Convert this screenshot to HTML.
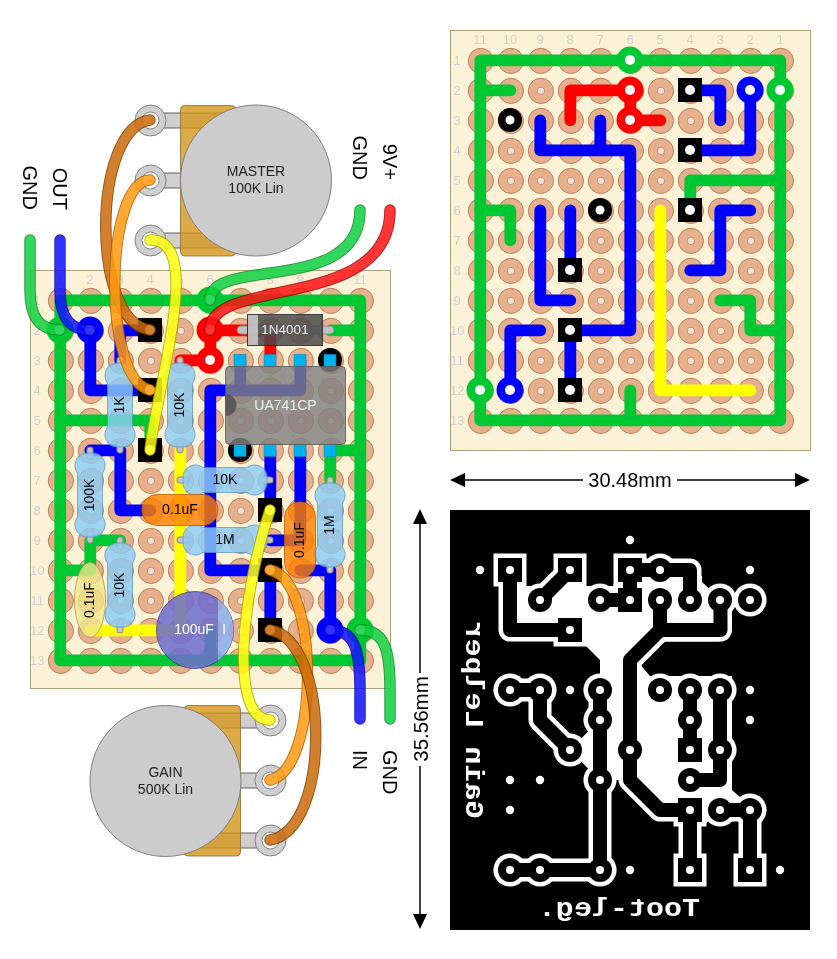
<!DOCTYPE html><html><head><meta charset="utf-8"><style>html,body{margin:0;padding:0;background:#fff;}svg{display:block;will-change:transform;}</style></head><body>
<svg width="837" height="959" viewBox="0 0 837 959" font-family="Liberation Sans, sans-serif">
<rect width="837" height="959" fill="#fff"/>
<rect x="30.5" y="270.5" width="360" height="418" fill="#fcf2d7" stroke="#aca27a" stroke-width="1"/>
<g font-family="Liberation Sans, sans-serif" font-size="13" fill="#d0d0d0" text-anchor="middle">
<text x="60" y="284">1</text>
<text x="90" y="284">2</text>
<text x="120" y="284">3</text>
<text x="150" y="284">4</text>
<text x="180" y="284">5</text>
<text x="210" y="284">6</text>
<text x="240" y="284">7</text>
<text x="270" y="284">8</text>
<text x="300" y="284">9</text>
<text x="330" y="284">10</text>
<text x="360" y="284">11</text>
<text x="37.2" y="305">1</text>
<text x="37.2" y="335">2</text>
<text x="37.2" y="365">3</text>
<text x="37.2" y="395">4</text>
<text x="37.2" y="425">5</text>
<text x="37.2" y="455">6</text>
<text x="37.2" y="485">7</text>
<text x="37.2" y="515">8</text>
<text x="37.2" y="545">9</text>
<text x="37.2" y="575">10</text>
<text x="37.2" y="605">11</text>
<text x="37.2" y="635">12</text>
<text x="37.2" y="665">13</text>
</g>
<g fill="#e6b08c" stroke="#b8825e" stroke-width="1">
<circle cx="60.9" cy="300.9" r="12.6"/>
<circle cx="60.9" cy="330.9" r="12.6"/>
<circle cx="60.9" cy="360.9" r="12.6"/>
<circle cx="60.9" cy="390.9" r="12.6"/>
<circle cx="60.9" cy="420.9" r="12.6"/>
<circle cx="60.9" cy="450.9" r="12.6"/>
<circle cx="60.9" cy="480.9" r="12.6"/>
<circle cx="60.9" cy="510.9" r="12.6"/>
<circle cx="60.9" cy="540.9" r="12.6"/>
<circle cx="60.9" cy="570.9" r="12.6"/>
<circle cx="60.9" cy="600.9" r="12.6"/>
<circle cx="60.9" cy="630.9" r="12.6"/>
<circle cx="60.9" cy="660.9" r="12.6"/>
<circle cx="90.9" cy="300.9" r="12.6"/>
<circle cx="90.9" cy="330.9" r="12.6"/>
<circle cx="90.9" cy="360.9" r="12.6"/>
<circle cx="90.9" cy="390.9" r="12.6"/>
<circle cx="90.9" cy="420.9" r="12.6"/>
<circle cx="90.9" cy="450.9" r="12.6"/>
<circle cx="90.9" cy="480.9" r="12.6"/>
<circle cx="90.9" cy="510.9" r="12.6"/>
<circle cx="90.9" cy="540.9" r="12.6"/>
<circle cx="90.9" cy="570.9" r="12.6"/>
<circle cx="90.9" cy="600.9" r="12.6"/>
<circle cx="90.9" cy="630.9" r="12.6"/>
<circle cx="90.9" cy="660.9" r="12.6"/>
<circle cx="120.9" cy="300.9" r="12.6"/>
<circle cx="120.9" cy="330.9" r="12.6"/>
<circle cx="120.9" cy="360.9" r="12.6"/>
<circle cx="120.9" cy="390.9" r="12.6"/>
<circle cx="120.9" cy="420.9" r="12.6"/>
<circle cx="120.9" cy="450.9" r="12.6"/>
<circle cx="120.9" cy="480.9" r="12.6"/>
<circle cx="120.9" cy="510.9" r="12.6"/>
<circle cx="120.9" cy="540.9" r="12.6"/>
<circle cx="120.9" cy="570.9" r="12.6"/>
<circle cx="120.9" cy="600.9" r="12.6"/>
<circle cx="120.9" cy="630.9" r="12.6"/>
<circle cx="120.9" cy="660.9" r="12.6"/>
<circle cx="150.9" cy="300.9" r="12.6"/>
<circle cx="150.9" cy="330.9" r="12.6"/>
<circle cx="150.9" cy="360.9" r="12.6"/>
<circle cx="150.9" cy="390.9" r="12.6"/>
<circle cx="150.9" cy="420.9" r="12.6"/>
<circle cx="150.9" cy="450.9" r="12.6"/>
<circle cx="150.9" cy="480.9" r="12.6"/>
<circle cx="150.9" cy="510.9" r="12.6"/>
<circle cx="150.9" cy="540.9" r="12.6"/>
<circle cx="150.9" cy="570.9" r="12.6"/>
<circle cx="150.9" cy="600.9" r="12.6"/>
<circle cx="150.9" cy="630.9" r="12.6"/>
<circle cx="150.9" cy="660.9" r="12.6"/>
<circle cx="180.9" cy="300.9" r="12.6"/>
<circle cx="180.9" cy="330.9" r="12.6"/>
<circle cx="180.9" cy="360.9" r="12.6"/>
<circle cx="180.9" cy="390.9" r="12.6"/>
<circle cx="180.9" cy="420.9" r="12.6"/>
<circle cx="180.9" cy="450.9" r="12.6"/>
<circle cx="180.9" cy="480.9" r="12.6"/>
<circle cx="180.9" cy="510.9" r="12.6"/>
<circle cx="180.9" cy="540.9" r="12.6"/>
<circle cx="180.9" cy="570.9" r="12.6"/>
<circle cx="180.9" cy="600.9" r="12.6"/>
<circle cx="180.9" cy="630.9" r="12.6"/>
<circle cx="180.9" cy="660.9" r="12.6"/>
<circle cx="210.9" cy="300.9" r="12.6"/>
<circle cx="210.9" cy="330.9" r="12.6"/>
<circle cx="210.9" cy="360.9" r="12.6"/>
<circle cx="210.9" cy="390.9" r="12.6"/>
<circle cx="210.9" cy="420.9" r="12.6"/>
<circle cx="210.9" cy="450.9" r="12.6"/>
<circle cx="210.9" cy="480.9" r="12.6"/>
<circle cx="210.9" cy="510.9" r="12.6"/>
<circle cx="210.9" cy="540.9" r="12.6"/>
<circle cx="210.9" cy="570.9" r="12.6"/>
<circle cx="210.9" cy="600.9" r="12.6"/>
<circle cx="210.9" cy="630.9" r="12.6"/>
<circle cx="210.9" cy="660.9" r="12.6"/>
<circle cx="240.9" cy="300.9" r="12.6"/>
<circle cx="240.9" cy="330.9" r="12.6"/>
<circle cx="240.9" cy="360.9" r="12.6"/>
<circle cx="240.9" cy="390.9" r="12.6"/>
<circle cx="240.9" cy="420.9" r="12.6"/>
<circle cx="240.9" cy="450.9" r="12.6"/>
<circle cx="240.9" cy="480.9" r="12.6"/>
<circle cx="240.9" cy="510.9" r="12.6"/>
<circle cx="240.9" cy="540.9" r="12.6"/>
<circle cx="240.9" cy="570.9" r="12.6"/>
<circle cx="240.9" cy="600.9" r="12.6"/>
<circle cx="240.9" cy="630.9" r="12.6"/>
<circle cx="240.9" cy="660.9" r="12.6"/>
<circle cx="270.9" cy="300.9" r="12.6"/>
<circle cx="270.9" cy="330.9" r="12.6"/>
<circle cx="270.9" cy="360.9" r="12.6"/>
<circle cx="270.9" cy="390.9" r="12.6"/>
<circle cx="270.9" cy="420.9" r="12.6"/>
<circle cx="270.9" cy="450.9" r="12.6"/>
<circle cx="270.9" cy="480.9" r="12.6"/>
<circle cx="270.9" cy="510.9" r="12.6"/>
<circle cx="270.9" cy="540.9" r="12.6"/>
<circle cx="270.9" cy="570.9" r="12.6"/>
<circle cx="270.9" cy="600.9" r="12.6"/>
<circle cx="270.9" cy="630.9" r="12.6"/>
<circle cx="270.9" cy="660.9" r="12.6"/>
<circle cx="300.9" cy="300.9" r="12.6"/>
<circle cx="300.9" cy="330.9" r="12.6"/>
<circle cx="300.9" cy="360.9" r="12.6"/>
<circle cx="300.9" cy="390.9" r="12.6"/>
<circle cx="300.9" cy="420.9" r="12.6"/>
<circle cx="300.9" cy="450.9" r="12.6"/>
<circle cx="300.9" cy="480.9" r="12.6"/>
<circle cx="300.9" cy="510.9" r="12.6"/>
<circle cx="300.9" cy="540.9" r="12.6"/>
<circle cx="300.9" cy="570.9" r="12.6"/>
<circle cx="300.9" cy="600.9" r="12.6"/>
<circle cx="300.9" cy="630.9" r="12.6"/>
<circle cx="300.9" cy="660.9" r="12.6"/>
<circle cx="330.9" cy="300.9" r="12.6"/>
<circle cx="330.9" cy="330.9" r="12.6"/>
<circle cx="330.9" cy="360.9" r="12.6"/>
<circle cx="330.9" cy="390.9" r="12.6"/>
<circle cx="330.9" cy="420.9" r="12.6"/>
<circle cx="330.9" cy="450.9" r="12.6"/>
<circle cx="330.9" cy="480.9" r="12.6"/>
<circle cx="330.9" cy="510.9" r="12.6"/>
<circle cx="330.9" cy="540.9" r="12.6"/>
<circle cx="330.9" cy="570.9" r="12.6"/>
<circle cx="330.9" cy="600.9" r="12.6"/>
<circle cx="330.9" cy="630.9" r="12.6"/>
<circle cx="330.9" cy="660.9" r="12.6"/>
<circle cx="360.9" cy="300.9" r="12.6"/>
<circle cx="360.9" cy="330.9" r="12.6"/>
<circle cx="360.9" cy="360.9" r="12.6"/>
<circle cx="360.9" cy="390.9" r="12.6"/>
<circle cx="360.9" cy="420.9" r="12.6"/>
<circle cx="360.9" cy="450.9" r="12.6"/>
<circle cx="360.9" cy="480.9" r="12.6"/>
<circle cx="360.9" cy="510.9" r="12.6"/>
<circle cx="360.9" cy="540.9" r="12.6"/>
<circle cx="360.9" cy="570.9" r="12.6"/>
<circle cx="360.9" cy="600.9" r="12.6"/>
<circle cx="360.9" cy="630.9" r="12.6"/>
<circle cx="360.9" cy="660.9" r="12.6"/>
</g>
<g fill="#f2e2d8" stroke="#b8825e" stroke-width="0.8">
<circle cx="60.9" cy="300.9" r="3.7"/>
<circle cx="60.9" cy="330.9" r="3.7"/>
<circle cx="60.9" cy="360.9" r="3.7"/>
<circle cx="60.9" cy="390.9" r="3.7"/>
<circle cx="60.9" cy="420.9" r="3.7"/>
<circle cx="60.9" cy="450.9" r="3.7"/>
<circle cx="60.9" cy="480.9" r="3.7"/>
<circle cx="60.9" cy="510.9" r="3.7"/>
<circle cx="60.9" cy="540.9" r="3.7"/>
<circle cx="60.9" cy="570.9" r="3.7"/>
<circle cx="60.9" cy="600.9" r="3.7"/>
<circle cx="60.9" cy="630.9" r="3.7"/>
<circle cx="60.9" cy="660.9" r="3.7"/>
<circle cx="90.9" cy="300.9" r="3.7"/>
<circle cx="90.9" cy="330.9" r="3.7"/>
<circle cx="90.9" cy="360.9" r="3.7"/>
<circle cx="90.9" cy="390.9" r="3.7"/>
<circle cx="90.9" cy="420.9" r="3.7"/>
<circle cx="90.9" cy="450.9" r="3.7"/>
<circle cx="90.9" cy="480.9" r="3.7"/>
<circle cx="90.9" cy="510.9" r="3.7"/>
<circle cx="90.9" cy="540.9" r="3.7"/>
<circle cx="90.9" cy="570.9" r="3.7"/>
<circle cx="90.9" cy="600.9" r="3.7"/>
<circle cx="90.9" cy="630.9" r="3.7"/>
<circle cx="90.9" cy="660.9" r="3.7"/>
<circle cx="120.9" cy="300.9" r="3.7"/>
<circle cx="120.9" cy="330.9" r="3.7"/>
<circle cx="120.9" cy="360.9" r="3.7"/>
<circle cx="120.9" cy="390.9" r="3.7"/>
<circle cx="120.9" cy="420.9" r="3.7"/>
<circle cx="120.9" cy="450.9" r="3.7"/>
<circle cx="120.9" cy="480.9" r="3.7"/>
<circle cx="120.9" cy="510.9" r="3.7"/>
<circle cx="120.9" cy="540.9" r="3.7"/>
<circle cx="120.9" cy="570.9" r="3.7"/>
<circle cx="120.9" cy="600.9" r="3.7"/>
<circle cx="120.9" cy="630.9" r="3.7"/>
<circle cx="120.9" cy="660.9" r="3.7"/>
<circle cx="150.9" cy="300.9" r="3.7"/>
<circle cx="150.9" cy="330.9" r="3.7"/>
<circle cx="150.9" cy="360.9" r="3.7"/>
<circle cx="150.9" cy="390.9" r="3.7"/>
<circle cx="150.9" cy="420.9" r="3.7"/>
<circle cx="150.9" cy="450.9" r="3.7"/>
<circle cx="150.9" cy="480.9" r="3.7"/>
<circle cx="150.9" cy="510.9" r="3.7"/>
<circle cx="150.9" cy="540.9" r="3.7"/>
<circle cx="150.9" cy="570.9" r="3.7"/>
<circle cx="150.9" cy="600.9" r="3.7"/>
<circle cx="150.9" cy="630.9" r="3.7"/>
<circle cx="150.9" cy="660.9" r="3.7"/>
<circle cx="180.9" cy="300.9" r="3.7"/>
<circle cx="180.9" cy="330.9" r="3.7"/>
<circle cx="180.9" cy="360.9" r="3.7"/>
<circle cx="180.9" cy="390.9" r="3.7"/>
<circle cx="180.9" cy="420.9" r="3.7"/>
<circle cx="180.9" cy="450.9" r="3.7"/>
<circle cx="180.9" cy="480.9" r="3.7"/>
<circle cx="180.9" cy="510.9" r="3.7"/>
<circle cx="180.9" cy="540.9" r="3.7"/>
<circle cx="180.9" cy="570.9" r="3.7"/>
<circle cx="180.9" cy="600.9" r="3.7"/>
<circle cx="180.9" cy="630.9" r="3.7"/>
<circle cx="180.9" cy="660.9" r="3.7"/>
<circle cx="210.9" cy="300.9" r="3.7"/>
<circle cx="210.9" cy="330.9" r="3.7"/>
<circle cx="210.9" cy="360.9" r="3.7"/>
<circle cx="210.9" cy="390.9" r="3.7"/>
<circle cx="210.9" cy="420.9" r="3.7"/>
<circle cx="210.9" cy="450.9" r="3.7"/>
<circle cx="210.9" cy="480.9" r="3.7"/>
<circle cx="210.9" cy="510.9" r="3.7"/>
<circle cx="210.9" cy="540.9" r="3.7"/>
<circle cx="210.9" cy="570.9" r="3.7"/>
<circle cx="210.9" cy="600.9" r="3.7"/>
<circle cx="210.9" cy="630.9" r="3.7"/>
<circle cx="210.9" cy="660.9" r="3.7"/>
<circle cx="240.9" cy="300.9" r="3.7"/>
<circle cx="240.9" cy="330.9" r="3.7"/>
<circle cx="240.9" cy="360.9" r="3.7"/>
<circle cx="240.9" cy="390.9" r="3.7"/>
<circle cx="240.9" cy="420.9" r="3.7"/>
<circle cx="240.9" cy="450.9" r="3.7"/>
<circle cx="240.9" cy="480.9" r="3.7"/>
<circle cx="240.9" cy="510.9" r="3.7"/>
<circle cx="240.9" cy="540.9" r="3.7"/>
<circle cx="240.9" cy="570.9" r="3.7"/>
<circle cx="240.9" cy="600.9" r="3.7"/>
<circle cx="240.9" cy="630.9" r="3.7"/>
<circle cx="240.9" cy="660.9" r="3.7"/>
<circle cx="270.9" cy="300.9" r="3.7"/>
<circle cx="270.9" cy="330.9" r="3.7"/>
<circle cx="270.9" cy="360.9" r="3.7"/>
<circle cx="270.9" cy="390.9" r="3.7"/>
<circle cx="270.9" cy="420.9" r="3.7"/>
<circle cx="270.9" cy="450.9" r="3.7"/>
<circle cx="270.9" cy="480.9" r="3.7"/>
<circle cx="270.9" cy="510.9" r="3.7"/>
<circle cx="270.9" cy="540.9" r="3.7"/>
<circle cx="270.9" cy="570.9" r="3.7"/>
<circle cx="270.9" cy="600.9" r="3.7"/>
<circle cx="270.9" cy="630.9" r="3.7"/>
<circle cx="270.9" cy="660.9" r="3.7"/>
<circle cx="300.9" cy="300.9" r="3.7"/>
<circle cx="300.9" cy="330.9" r="3.7"/>
<circle cx="300.9" cy="360.9" r="3.7"/>
<circle cx="300.9" cy="390.9" r="3.7"/>
<circle cx="300.9" cy="420.9" r="3.7"/>
<circle cx="300.9" cy="450.9" r="3.7"/>
<circle cx="300.9" cy="480.9" r="3.7"/>
<circle cx="300.9" cy="510.9" r="3.7"/>
<circle cx="300.9" cy="540.9" r="3.7"/>
<circle cx="300.9" cy="570.9" r="3.7"/>
<circle cx="300.9" cy="600.9" r="3.7"/>
<circle cx="300.9" cy="630.9" r="3.7"/>
<circle cx="300.9" cy="660.9" r="3.7"/>
<circle cx="330.9" cy="300.9" r="3.7"/>
<circle cx="330.9" cy="330.9" r="3.7"/>
<circle cx="330.9" cy="360.9" r="3.7"/>
<circle cx="330.9" cy="390.9" r="3.7"/>
<circle cx="330.9" cy="420.9" r="3.7"/>
<circle cx="330.9" cy="450.9" r="3.7"/>
<circle cx="330.9" cy="480.9" r="3.7"/>
<circle cx="330.9" cy="510.9" r="3.7"/>
<circle cx="330.9" cy="540.9" r="3.7"/>
<circle cx="330.9" cy="570.9" r="3.7"/>
<circle cx="330.9" cy="600.9" r="3.7"/>
<circle cx="330.9" cy="630.9" r="3.7"/>
<circle cx="330.9" cy="660.9" r="3.7"/>
<circle cx="360.9" cy="300.9" r="3.7"/>
<circle cx="360.9" cy="330.9" r="3.7"/>
<circle cx="360.9" cy="360.9" r="3.7"/>
<circle cx="360.9" cy="390.9" r="3.7"/>
<circle cx="360.9" cy="420.9" r="3.7"/>
<circle cx="360.9" cy="450.9" r="3.7"/>
<circle cx="360.9" cy="480.9" r="3.7"/>
<circle cx="360.9" cy="510.9" r="3.7"/>
<circle cx="360.9" cy="540.9" r="3.7"/>
<circle cx="360.9" cy="570.9" r="3.7"/>
<circle cx="360.9" cy="600.9" r="3.7"/>
<circle cx="360.9" cy="630.9" r="3.7"/>
<circle cx="360.9" cy="660.9" r="3.7"/>
</g>
<g fill="none" stroke="#00c832" stroke-width="11.8" stroke-linecap="round" stroke-linejoin="round">
<polyline points="60.3,300.3 360.3,300.3 360.3,660.3 60.3,660.3 60.3,300.3"/>
<polyline points="360.3,330.3 330.3,330.3"/>
<polyline points="360.3,450.3 330.3,450.3 330.3,480.3"/>
<polyline points="60.3,420.3 150.3,420.3 150.3,450.3"/>
<polyline points="120.3,540.3 90.3,540.3 90.3,570.3 60.3,570.3"/>
<polyline points="210.3,660.3 210.3,630.3"/>
</g>
<g fill="none" stroke="#ff0000" stroke-width="11.8" stroke-linecap="round" stroke-linejoin="round">
<polyline points="270.3,360.3 270.3,330.3 210.3,330.3"/>
<polyline points="210.3,330.3 210.3,360.3 180.3,360.3"/>
</g>
<g fill="none" stroke="#0000ff" stroke-width="11.8" stroke-linecap="round" stroke-linejoin="round">
<polyline points="90.3,330.3 90.3,390.3 150.3,390.3"/>
<polyline points="150.3,330.3 120.3,330.3 120.3,360.3"/>
<polyline points="300.3,360.3 300.3,390.3 210.3,390.3 210.3,570.3 270.3,570.3"/>
<polyline points="240.3,360.3 240.3,390.3"/>
<polyline points="300.3,450.3 300.3,540.3 270.3,540.3"/>
<polyline points="270.3,450.3 270.3,510.3"/>
<polyline points="270.3,570.3 270.3,630.3"/>
<polyline points="300.3,570.3 330.3,570.3 330.3,630.3"/>
<polyline points="90.3,450.3 120.3,450.3 120.3,510.3 150.3,510.3"/>
</g>
<g fill="none" stroke="#ffff00" stroke-width="11.8" stroke-linecap="round" stroke-linejoin="round">
<polyline points="180.3,450.3 180.3,630.3 90.3,630.3"/>
</g>
<circle cx="210" cy="300" r="13.5" fill="#00c832"/><circle cx="210" cy="300" r="5" fill="#fff"/>
<circle cx="60" cy="330" r="13.5" fill="#00c832"/><circle cx="60" cy="330" r="5" fill="#fff"/>
<circle cx="360" cy="630" r="13.5" fill="#00c832"/><circle cx="360" cy="630" r="5" fill="#fff"/>
<circle cx="210" cy="330" r="13.5" fill="#ff0000"/><circle cx="210" cy="330" r="5" fill="#fff"/>
<circle cx="210" cy="360" r="13.5" fill="#ff0000"/><circle cx="210" cy="360" r="5" fill="#fff"/>
<circle cx="90" cy="330" r="13.5" fill="#0000ff"/><circle cx="90" cy="330" r="5" fill="#fff"/>
<circle cx="330" cy="630" r="13.5" fill="#0000ff"/><circle cx="330" cy="630" r="5" fill="#fff"/>
<rect x="138" y="318" width="24" height="24" fill="#000"/><circle cx="150" cy="330" r="5" fill="#fff"/>
<rect x="138" y="378" width="24" height="24" fill="#000"/><circle cx="150" cy="390" r="5" fill="#fff"/>
<rect x="138" y="438" width="24" height="24" fill="#000"/><circle cx="150" cy="450" r="5" fill="#fff"/>
<rect x="258" y="498" width="24" height="24" fill="#000"/><circle cx="270" cy="510" r="5" fill="#fff"/>
<rect x="258" y="558" width="24" height="24" fill="#000"/><circle cx="270" cy="570" r="5" fill="#fff"/>
<rect x="258" y="618" width="24" height="24" fill="#000"/><circle cx="270" cy="630" r="5" fill="#fff"/>
<circle cx="330" cy="360" r="12" fill="#000"/><circle cx="330" cy="360" r="4.5" fill="#fff"/>
<circle cx="240" cy="450" r="12" fill="#000"/><circle cx="240" cy="450" r="4.5" fill="#fff"/>
<rect x="450.5" y="30.5" width="360" height="420" fill="#fcf2d7" stroke="#aca27a" stroke-width="1"/>
<g font-family="Liberation Sans, sans-serif" font-size="13" fill="#d0d0d0" text-anchor="middle">
<text x="780" y="44">1</text>
<text x="750" y="44">2</text>
<text x="720" y="44">3</text>
<text x="690" y="44">4</text>
<text x="660" y="44">5</text>
<text x="630" y="44">6</text>
<text x="600" y="44">7</text>
<text x="570" y="44">8</text>
<text x="540" y="44">9</text>
<text x="510" y="44">10</text>
<text x="480" y="44">11</text>
<text x="457.2" y="65">1</text>
<text x="457.2" y="95">2</text>
<text x="457.2" y="125">3</text>
<text x="457.2" y="155">4</text>
<text x="457.2" y="185">5</text>
<text x="457.2" y="215">6</text>
<text x="457.2" y="245">7</text>
<text x="457.2" y="275">8</text>
<text x="457.2" y="305">9</text>
<text x="457.2" y="335">10</text>
<text x="457.2" y="365">11</text>
<text x="457.2" y="395">12</text>
<text x="457.2" y="425">13</text>
</g>
<g fill="#e6b08c" stroke="#b8825e" stroke-width="1">
<circle cx="780.9" cy="60.9" r="12.6"/>
<circle cx="780.9" cy="90.9" r="12.6"/>
<circle cx="780.9" cy="120.9" r="12.6"/>
<circle cx="780.9" cy="150.9" r="12.6"/>
<circle cx="780.9" cy="180.9" r="12.6"/>
<circle cx="780.9" cy="210.9" r="12.6"/>
<circle cx="780.9" cy="240.9" r="12.6"/>
<circle cx="780.9" cy="270.9" r="12.6"/>
<circle cx="780.9" cy="300.9" r="12.6"/>
<circle cx="780.9" cy="330.9" r="12.6"/>
<circle cx="780.9" cy="360.9" r="12.6"/>
<circle cx="780.9" cy="390.9" r="12.6"/>
<circle cx="780.9" cy="420.9" r="12.6"/>
<circle cx="750.9" cy="60.9" r="12.6"/>
<circle cx="750.9" cy="90.9" r="12.6"/>
<circle cx="750.9" cy="120.9" r="12.6"/>
<circle cx="750.9" cy="150.9" r="12.6"/>
<circle cx="750.9" cy="180.9" r="12.6"/>
<circle cx="750.9" cy="210.9" r="12.6"/>
<circle cx="750.9" cy="240.9" r="12.6"/>
<circle cx="750.9" cy="270.9" r="12.6"/>
<circle cx="750.9" cy="300.9" r="12.6"/>
<circle cx="750.9" cy="330.9" r="12.6"/>
<circle cx="750.9" cy="360.9" r="12.6"/>
<circle cx="750.9" cy="390.9" r="12.6"/>
<circle cx="750.9" cy="420.9" r="12.6"/>
<circle cx="720.9" cy="60.9" r="12.6"/>
<circle cx="720.9" cy="90.9" r="12.6"/>
<circle cx="720.9" cy="120.9" r="12.6"/>
<circle cx="720.9" cy="150.9" r="12.6"/>
<circle cx="720.9" cy="180.9" r="12.6"/>
<circle cx="720.9" cy="210.9" r="12.6"/>
<circle cx="720.9" cy="240.9" r="12.6"/>
<circle cx="720.9" cy="270.9" r="12.6"/>
<circle cx="720.9" cy="300.9" r="12.6"/>
<circle cx="720.9" cy="330.9" r="12.6"/>
<circle cx="720.9" cy="360.9" r="12.6"/>
<circle cx="720.9" cy="390.9" r="12.6"/>
<circle cx="720.9" cy="420.9" r="12.6"/>
<circle cx="690.9" cy="60.9" r="12.6"/>
<circle cx="690.9" cy="90.9" r="12.6"/>
<circle cx="690.9" cy="120.9" r="12.6"/>
<circle cx="690.9" cy="150.9" r="12.6"/>
<circle cx="690.9" cy="180.9" r="12.6"/>
<circle cx="690.9" cy="210.9" r="12.6"/>
<circle cx="690.9" cy="240.9" r="12.6"/>
<circle cx="690.9" cy="270.9" r="12.6"/>
<circle cx="690.9" cy="300.9" r="12.6"/>
<circle cx="690.9" cy="330.9" r="12.6"/>
<circle cx="690.9" cy="360.9" r="12.6"/>
<circle cx="690.9" cy="390.9" r="12.6"/>
<circle cx="690.9" cy="420.9" r="12.6"/>
<circle cx="660.9" cy="60.9" r="12.6"/>
<circle cx="660.9" cy="90.9" r="12.6"/>
<circle cx="660.9" cy="120.9" r="12.6"/>
<circle cx="660.9" cy="150.9" r="12.6"/>
<circle cx="660.9" cy="180.9" r="12.6"/>
<circle cx="660.9" cy="210.9" r="12.6"/>
<circle cx="660.9" cy="240.9" r="12.6"/>
<circle cx="660.9" cy="270.9" r="12.6"/>
<circle cx="660.9" cy="300.9" r="12.6"/>
<circle cx="660.9" cy="330.9" r="12.6"/>
<circle cx="660.9" cy="360.9" r="12.6"/>
<circle cx="660.9" cy="390.9" r="12.6"/>
<circle cx="660.9" cy="420.9" r="12.6"/>
<circle cx="630.9" cy="60.9" r="12.6"/>
<circle cx="630.9" cy="90.9" r="12.6"/>
<circle cx="630.9" cy="120.9" r="12.6"/>
<circle cx="630.9" cy="150.9" r="12.6"/>
<circle cx="630.9" cy="180.9" r="12.6"/>
<circle cx="630.9" cy="210.9" r="12.6"/>
<circle cx="630.9" cy="240.9" r="12.6"/>
<circle cx="630.9" cy="270.9" r="12.6"/>
<circle cx="630.9" cy="300.9" r="12.6"/>
<circle cx="630.9" cy="330.9" r="12.6"/>
<circle cx="630.9" cy="360.9" r="12.6"/>
<circle cx="630.9" cy="390.9" r="12.6"/>
<circle cx="630.9" cy="420.9" r="12.6"/>
<circle cx="600.9" cy="60.9" r="12.6"/>
<circle cx="600.9" cy="90.9" r="12.6"/>
<circle cx="600.9" cy="120.9" r="12.6"/>
<circle cx="600.9" cy="150.9" r="12.6"/>
<circle cx="600.9" cy="180.9" r="12.6"/>
<circle cx="600.9" cy="210.9" r="12.6"/>
<circle cx="600.9" cy="240.9" r="12.6"/>
<circle cx="600.9" cy="270.9" r="12.6"/>
<circle cx="600.9" cy="300.9" r="12.6"/>
<circle cx="600.9" cy="330.9" r="12.6"/>
<circle cx="600.9" cy="360.9" r="12.6"/>
<circle cx="600.9" cy="390.9" r="12.6"/>
<circle cx="600.9" cy="420.9" r="12.6"/>
<circle cx="570.9" cy="60.9" r="12.6"/>
<circle cx="570.9" cy="90.9" r="12.6"/>
<circle cx="570.9" cy="120.9" r="12.6"/>
<circle cx="570.9" cy="150.9" r="12.6"/>
<circle cx="570.9" cy="180.9" r="12.6"/>
<circle cx="570.9" cy="210.9" r="12.6"/>
<circle cx="570.9" cy="240.9" r="12.6"/>
<circle cx="570.9" cy="270.9" r="12.6"/>
<circle cx="570.9" cy="300.9" r="12.6"/>
<circle cx="570.9" cy="330.9" r="12.6"/>
<circle cx="570.9" cy="360.9" r="12.6"/>
<circle cx="570.9" cy="390.9" r="12.6"/>
<circle cx="570.9" cy="420.9" r="12.6"/>
<circle cx="540.9" cy="60.9" r="12.6"/>
<circle cx="540.9" cy="90.9" r="12.6"/>
<circle cx="540.9" cy="120.9" r="12.6"/>
<circle cx="540.9" cy="150.9" r="12.6"/>
<circle cx="540.9" cy="180.9" r="12.6"/>
<circle cx="540.9" cy="210.9" r="12.6"/>
<circle cx="540.9" cy="240.9" r="12.6"/>
<circle cx="540.9" cy="270.9" r="12.6"/>
<circle cx="540.9" cy="300.9" r="12.6"/>
<circle cx="540.9" cy="330.9" r="12.6"/>
<circle cx="540.9" cy="360.9" r="12.6"/>
<circle cx="540.9" cy="390.9" r="12.6"/>
<circle cx="540.9" cy="420.9" r="12.6"/>
<circle cx="510.9" cy="60.9" r="12.6"/>
<circle cx="510.9" cy="90.9" r="12.6"/>
<circle cx="510.9" cy="120.9" r="12.6"/>
<circle cx="510.9" cy="150.9" r="12.6"/>
<circle cx="510.9" cy="180.9" r="12.6"/>
<circle cx="510.9" cy="210.9" r="12.6"/>
<circle cx="510.9" cy="240.9" r="12.6"/>
<circle cx="510.9" cy="270.9" r="12.6"/>
<circle cx="510.9" cy="300.9" r="12.6"/>
<circle cx="510.9" cy="330.9" r="12.6"/>
<circle cx="510.9" cy="360.9" r="12.6"/>
<circle cx="510.9" cy="390.9" r="12.6"/>
<circle cx="510.9" cy="420.9" r="12.6"/>
<circle cx="480.9" cy="60.9" r="12.6"/>
<circle cx="480.9" cy="90.9" r="12.6"/>
<circle cx="480.9" cy="120.9" r="12.6"/>
<circle cx="480.9" cy="150.9" r="12.6"/>
<circle cx="480.9" cy="180.9" r="12.6"/>
<circle cx="480.9" cy="210.9" r="12.6"/>
<circle cx="480.9" cy="240.9" r="12.6"/>
<circle cx="480.9" cy="270.9" r="12.6"/>
<circle cx="480.9" cy="300.9" r="12.6"/>
<circle cx="480.9" cy="330.9" r="12.6"/>
<circle cx="480.9" cy="360.9" r="12.6"/>
<circle cx="480.9" cy="390.9" r="12.6"/>
<circle cx="480.9" cy="420.9" r="12.6"/>
</g>
<g fill="#f2e2d8" stroke="#b8825e" stroke-width="0.8">
<circle cx="780.9" cy="60.9" r="3.7"/>
<circle cx="780.9" cy="90.9" r="3.7"/>
<circle cx="780.9" cy="120.9" r="3.7"/>
<circle cx="780.9" cy="150.9" r="3.7"/>
<circle cx="780.9" cy="180.9" r="3.7"/>
<circle cx="780.9" cy="210.9" r="3.7"/>
<circle cx="780.9" cy="240.9" r="3.7"/>
<circle cx="780.9" cy="270.9" r="3.7"/>
<circle cx="780.9" cy="300.9" r="3.7"/>
<circle cx="780.9" cy="330.9" r="3.7"/>
<circle cx="780.9" cy="360.9" r="3.7"/>
<circle cx="780.9" cy="390.9" r="3.7"/>
<circle cx="780.9" cy="420.9" r="3.7"/>
<circle cx="750.9" cy="60.9" r="3.7"/>
<circle cx="750.9" cy="90.9" r="3.7"/>
<circle cx="750.9" cy="120.9" r="3.7"/>
<circle cx="750.9" cy="150.9" r="3.7"/>
<circle cx="750.9" cy="180.9" r="3.7"/>
<circle cx="750.9" cy="210.9" r="3.7"/>
<circle cx="750.9" cy="240.9" r="3.7"/>
<circle cx="750.9" cy="270.9" r="3.7"/>
<circle cx="750.9" cy="300.9" r="3.7"/>
<circle cx="750.9" cy="330.9" r="3.7"/>
<circle cx="750.9" cy="360.9" r="3.7"/>
<circle cx="750.9" cy="390.9" r="3.7"/>
<circle cx="750.9" cy="420.9" r="3.7"/>
<circle cx="720.9" cy="60.9" r="3.7"/>
<circle cx="720.9" cy="90.9" r="3.7"/>
<circle cx="720.9" cy="120.9" r="3.7"/>
<circle cx="720.9" cy="150.9" r="3.7"/>
<circle cx="720.9" cy="180.9" r="3.7"/>
<circle cx="720.9" cy="210.9" r="3.7"/>
<circle cx="720.9" cy="240.9" r="3.7"/>
<circle cx="720.9" cy="270.9" r="3.7"/>
<circle cx="720.9" cy="300.9" r="3.7"/>
<circle cx="720.9" cy="330.9" r="3.7"/>
<circle cx="720.9" cy="360.9" r="3.7"/>
<circle cx="720.9" cy="390.9" r="3.7"/>
<circle cx="720.9" cy="420.9" r="3.7"/>
<circle cx="690.9" cy="60.9" r="3.7"/>
<circle cx="690.9" cy="90.9" r="3.7"/>
<circle cx="690.9" cy="120.9" r="3.7"/>
<circle cx="690.9" cy="150.9" r="3.7"/>
<circle cx="690.9" cy="180.9" r="3.7"/>
<circle cx="690.9" cy="210.9" r="3.7"/>
<circle cx="690.9" cy="240.9" r="3.7"/>
<circle cx="690.9" cy="270.9" r="3.7"/>
<circle cx="690.9" cy="300.9" r="3.7"/>
<circle cx="690.9" cy="330.9" r="3.7"/>
<circle cx="690.9" cy="360.9" r="3.7"/>
<circle cx="690.9" cy="390.9" r="3.7"/>
<circle cx="690.9" cy="420.9" r="3.7"/>
<circle cx="660.9" cy="60.9" r="3.7"/>
<circle cx="660.9" cy="90.9" r="3.7"/>
<circle cx="660.9" cy="120.9" r="3.7"/>
<circle cx="660.9" cy="150.9" r="3.7"/>
<circle cx="660.9" cy="180.9" r="3.7"/>
<circle cx="660.9" cy="210.9" r="3.7"/>
<circle cx="660.9" cy="240.9" r="3.7"/>
<circle cx="660.9" cy="270.9" r="3.7"/>
<circle cx="660.9" cy="300.9" r="3.7"/>
<circle cx="660.9" cy="330.9" r="3.7"/>
<circle cx="660.9" cy="360.9" r="3.7"/>
<circle cx="660.9" cy="390.9" r="3.7"/>
<circle cx="660.9" cy="420.9" r="3.7"/>
<circle cx="630.9" cy="60.9" r="3.7"/>
<circle cx="630.9" cy="90.9" r="3.7"/>
<circle cx="630.9" cy="120.9" r="3.7"/>
<circle cx="630.9" cy="150.9" r="3.7"/>
<circle cx="630.9" cy="180.9" r="3.7"/>
<circle cx="630.9" cy="210.9" r="3.7"/>
<circle cx="630.9" cy="240.9" r="3.7"/>
<circle cx="630.9" cy="270.9" r="3.7"/>
<circle cx="630.9" cy="300.9" r="3.7"/>
<circle cx="630.9" cy="330.9" r="3.7"/>
<circle cx="630.9" cy="360.9" r="3.7"/>
<circle cx="630.9" cy="390.9" r="3.7"/>
<circle cx="630.9" cy="420.9" r="3.7"/>
<circle cx="600.9" cy="60.9" r="3.7"/>
<circle cx="600.9" cy="90.9" r="3.7"/>
<circle cx="600.9" cy="120.9" r="3.7"/>
<circle cx="600.9" cy="150.9" r="3.7"/>
<circle cx="600.9" cy="180.9" r="3.7"/>
<circle cx="600.9" cy="210.9" r="3.7"/>
<circle cx="600.9" cy="240.9" r="3.7"/>
<circle cx="600.9" cy="270.9" r="3.7"/>
<circle cx="600.9" cy="300.9" r="3.7"/>
<circle cx="600.9" cy="330.9" r="3.7"/>
<circle cx="600.9" cy="360.9" r="3.7"/>
<circle cx="600.9" cy="390.9" r="3.7"/>
<circle cx="600.9" cy="420.9" r="3.7"/>
<circle cx="570.9" cy="60.9" r="3.7"/>
<circle cx="570.9" cy="90.9" r="3.7"/>
<circle cx="570.9" cy="120.9" r="3.7"/>
<circle cx="570.9" cy="150.9" r="3.7"/>
<circle cx="570.9" cy="180.9" r="3.7"/>
<circle cx="570.9" cy="210.9" r="3.7"/>
<circle cx="570.9" cy="240.9" r="3.7"/>
<circle cx="570.9" cy="270.9" r="3.7"/>
<circle cx="570.9" cy="300.9" r="3.7"/>
<circle cx="570.9" cy="330.9" r="3.7"/>
<circle cx="570.9" cy="360.9" r="3.7"/>
<circle cx="570.9" cy="390.9" r="3.7"/>
<circle cx="570.9" cy="420.9" r="3.7"/>
<circle cx="540.9" cy="60.9" r="3.7"/>
<circle cx="540.9" cy="90.9" r="3.7"/>
<circle cx="540.9" cy="120.9" r="3.7"/>
<circle cx="540.9" cy="150.9" r="3.7"/>
<circle cx="540.9" cy="180.9" r="3.7"/>
<circle cx="540.9" cy="210.9" r="3.7"/>
<circle cx="540.9" cy="240.9" r="3.7"/>
<circle cx="540.9" cy="270.9" r="3.7"/>
<circle cx="540.9" cy="300.9" r="3.7"/>
<circle cx="540.9" cy="330.9" r="3.7"/>
<circle cx="540.9" cy="360.9" r="3.7"/>
<circle cx="540.9" cy="390.9" r="3.7"/>
<circle cx="540.9" cy="420.9" r="3.7"/>
<circle cx="510.9" cy="60.9" r="3.7"/>
<circle cx="510.9" cy="90.9" r="3.7"/>
<circle cx="510.9" cy="120.9" r="3.7"/>
<circle cx="510.9" cy="150.9" r="3.7"/>
<circle cx="510.9" cy="180.9" r="3.7"/>
<circle cx="510.9" cy="210.9" r="3.7"/>
<circle cx="510.9" cy="240.9" r="3.7"/>
<circle cx="510.9" cy="270.9" r="3.7"/>
<circle cx="510.9" cy="300.9" r="3.7"/>
<circle cx="510.9" cy="330.9" r="3.7"/>
<circle cx="510.9" cy="360.9" r="3.7"/>
<circle cx="510.9" cy="390.9" r="3.7"/>
<circle cx="510.9" cy="420.9" r="3.7"/>
<circle cx="480.9" cy="60.9" r="3.7"/>
<circle cx="480.9" cy="90.9" r="3.7"/>
<circle cx="480.9" cy="120.9" r="3.7"/>
<circle cx="480.9" cy="150.9" r="3.7"/>
<circle cx="480.9" cy="180.9" r="3.7"/>
<circle cx="480.9" cy="210.9" r="3.7"/>
<circle cx="480.9" cy="240.9" r="3.7"/>
<circle cx="480.9" cy="270.9" r="3.7"/>
<circle cx="480.9" cy="300.9" r="3.7"/>
<circle cx="480.9" cy="330.9" r="3.7"/>
<circle cx="480.9" cy="360.9" r="3.7"/>
<circle cx="480.9" cy="390.9" r="3.7"/>
<circle cx="480.9" cy="420.9" r="3.7"/>
</g>
<g fill="none" stroke="#00c832" stroke-width="11.8" stroke-linecap="round" stroke-linejoin="round">
<polyline points="780.3,60.3 480.3,60.3 480.3,420.3 780.3,420.3 780.3,60.3"/>
<polyline points="480.3,90.3 510.3,90.3"/>
<polyline points="480.3,210.3 510.3,210.3 510.3,240.3"/>
<polyline points="780.3,180.3 690.3,180.3 690.3,210.3"/>
<polyline points="720.3,300.3 750.3,300.3 750.3,330.3 780.3,330.3"/>
<polyline points="630.3,420.3 630.3,390.3"/>
</g>
<g fill="none" stroke="#ff0000" stroke-width="11.8" stroke-linecap="round" stroke-linejoin="round">
<polyline points="570.3,120.3 570.3,90.3 630.3,90.3"/>
<polyline points="630.3,90.3 630.3,120.3 660.3,120.3"/>
</g>
<g fill="none" stroke="#0000ff" stroke-width="11.8" stroke-linecap="round" stroke-linejoin="round">
<polyline points="750.3,90.3 750.3,150.3 690.3,150.3"/>
<polyline points="690.3,90.3 720.3,90.3 720.3,120.3"/>
<polyline points="540.3,120.3 540.3,150.3 630.3,150.3 630.3,330.3 570.3,330.3"/>
<polyline points="600.3,120.3 600.3,150.3"/>
<polyline points="540.3,210.3 540.3,300.3 570.3,300.3"/>
<polyline points="570.3,210.3 570.3,270.3"/>
<polyline points="570.3,330.3 570.3,390.3"/>
<polyline points="540.3,330.3 510.3,330.3 510.3,390.3"/>
<polyline points="750.3,210.3 720.3,210.3 720.3,270.3 690.3,270.3"/>
</g>
<g fill="none" stroke="#ffff00" stroke-width="11.8" stroke-linecap="round" stroke-linejoin="round">
<polyline points="660.3,210.3 660.3,390.3 750.3,390.3"/>
</g>
<circle cx="630" cy="60" r="13.5" fill="#00c832"/><circle cx="630" cy="60" r="5" fill="#fff"/>
<circle cx="780" cy="90" r="13.5" fill="#00c832"/><circle cx="780" cy="90" r="5" fill="#fff"/>
<circle cx="480" cy="390" r="13.5" fill="#00c832"/><circle cx="480" cy="390" r="5" fill="#fff"/>
<circle cx="630" cy="90" r="13.5" fill="#ff0000"/><circle cx="630" cy="90" r="5" fill="#fff"/>
<circle cx="630" cy="120" r="13.5" fill="#ff0000"/><circle cx="630" cy="120" r="5" fill="#fff"/>
<circle cx="750" cy="90" r="13.5" fill="#0000ff"/><circle cx="750" cy="90" r="5" fill="#fff"/>
<circle cx="510" cy="390" r="13.5" fill="#0000ff"/><circle cx="510" cy="390" r="5" fill="#fff"/>
<rect x="678" y="78" width="24" height="24" fill="#000"/><circle cx="690" cy="90" r="5" fill="#fff"/>
<rect x="678" y="138" width="24" height="24" fill="#000"/><circle cx="690" cy="150" r="5" fill="#fff"/>
<rect x="678" y="198" width="24" height="24" fill="#000"/><circle cx="690" cy="210" r="5" fill="#fff"/>
<rect x="558" y="258" width="24" height="24" fill="#000"/><circle cx="570" cy="270" r="5" fill="#fff"/>
<rect x="558" y="318" width="24" height="24" fill="#000"/><circle cx="570" cy="330" r="5" fill="#fff"/>
<rect x="558" y="378" width="24" height="24" fill="#000"/><circle cx="570" cy="390" r="5" fill="#fff"/>
<circle cx="510" cy="120" r="12" fill="#000"/><circle cx="510" cy="120" r="4.5" fill="#fff"/>
<circle cx="600" cy="210" r="12" fill="#000"/><circle cx="600" cy="210" r="4.5" fill="#fff"/>
<g>
<rect x="234" y="354.5" width="12" height="12.5" fill="#00b2ee" stroke="#0a8cc0" stroke-width="0.6"/>
<rect x="234" y="444" width="12" height="12.5" fill="#00b2ee" stroke="#0a8cc0" stroke-width="0.6"/>
<rect x="264" y="354.5" width="12" height="12.5" fill="#00b2ee" stroke="#0a8cc0" stroke-width="0.6"/>
<rect x="264" y="444" width="12" height="12.5" fill="#00b2ee" stroke="#0a8cc0" stroke-width="0.6"/>
<rect x="294" y="354.5" width="12" height="12.5" fill="#00b2ee" stroke="#0a8cc0" stroke-width="0.6"/>
<rect x="294" y="444" width="12" height="12.5" fill="#00b2ee" stroke="#0a8cc0" stroke-width="0.6"/>
<rect x="324" y="354.5" width="12" height="12.5" fill="#00b2ee" stroke="#0a8cc0" stroke-width="0.6"/>
<rect x="324" y="444" width="12" height="12.5" fill="#00b2ee" stroke="#0a8cc0" stroke-width="0.6"/>
<rect x="225.5" y="366.5" width="120" height="78" rx="4" fill="#808080" fill-opacity="0.82" stroke="#555" stroke-opacity="0.8"/>
<path d="M225.5,394 A11,11 0 0 1 225.5,416 Z" fill="#505050" opacity="0.85"/>
<text x="285.5" y="405" font-size="14" text-anchor="middle" dominant-baseline="central" fill="#eee">UA741CP</text>
</g>
<rect x="237" y="326" width="97" height="8" rx="4" fill="#c0c0c0" stroke="#8c8c8c" stroke-width="1"/>
<rect x="247.5" y="314.5" width="75" height="31" fill="#4a4a4a" fill-opacity="0.85" stroke="#222" stroke-opacity="0.8"/>
<rect x="248" y="315" width="10" height="30" fill="#cfcfcf" fill-opacity="0.85"/>
<text x="285" y="329" font-size="13.5" text-anchor="middle" dominant-baseline="central" fill="#eee">1N4001</text>
<g transform="translate(120,405.0) rotate(90)"><line x1="-45.0" y1="0" x2="-39.0" y2="0" stroke="#8c8c8c" stroke-width="7" stroke-linecap="round"/><line x1="-45.0" y1="0" x2="-39.0" y2="0" stroke="#c4c4c4" stroke-width="5" stroke-linecap="round"/><line x1="45.0" y1="0" x2="39.0" y2="0" stroke="#8c8c8c" stroke-width="7" stroke-linecap="round"/><line x1="45.0" y1="0" x2="39.0" y2="0" stroke="#c4c4c4" stroke-width="5" stroke-linecap="round"/><g opacity="0.82"><rect x="-42.5" y="-15.5" width="26" height="31" rx="13" fill="#5f9cc8"/><rect x="16.5" y="-15.5" width="26" height="31" rx="13" fill="#5f9cc8"/><rect x="-29.5" y="-13" width="59.0" height="26" fill="#5f9cc8"/><rect x="-41.5" y="-14.5" width="24" height="29" rx="12" fill="#8ccdf5"/><rect x="17.5" y="-14.5" width="24" height="29" rx="12" fill="#8ccdf5"/><rect x="-29.5" y="-12" width="59.0" height="24" fill="#8ccdf5"/></g></g>
<text x="0" y="-1.0" transform="translate(120,405.0) rotate(-90)" font-size="14" text-anchor="middle" dominant-baseline="central" fill="#000">1K</text>
<g transform="translate(180,405.0) rotate(90)"><line x1="-45.0" y1="0" x2="-39.0" y2="0" stroke="#8c8c8c" stroke-width="7" stroke-linecap="round"/><line x1="-45.0" y1="0" x2="-39.0" y2="0" stroke="#c4c4c4" stroke-width="5" stroke-linecap="round"/><line x1="45.0" y1="0" x2="39.0" y2="0" stroke="#8c8c8c" stroke-width="7" stroke-linecap="round"/><line x1="45.0" y1="0" x2="39.0" y2="0" stroke="#c4c4c4" stroke-width="5" stroke-linecap="round"/><g opacity="0.82"><rect x="-42.5" y="-15.5" width="26" height="31" rx="13" fill="#5f9cc8"/><rect x="16.5" y="-15.5" width="26" height="31" rx="13" fill="#5f9cc8"/><rect x="-29.5" y="-13" width="59.0" height="26" fill="#5f9cc8"/><rect x="-41.5" y="-14.5" width="24" height="29" rx="12" fill="#8ccdf5"/><rect x="17.5" y="-14.5" width="24" height="29" rx="12" fill="#8ccdf5"/><rect x="-29.5" y="-12" width="59.0" height="24" fill="#8ccdf5"/></g></g>
<text x="0" y="-1.0" transform="translate(180,405.0) rotate(-90)" font-size="14" text-anchor="middle" dominant-baseline="central" fill="#000">10K</text>
<g transform="translate(90,495.0) rotate(90)"><line x1="-45.0" y1="0" x2="-39.0" y2="0" stroke="#8c8c8c" stroke-width="7" stroke-linecap="round"/><line x1="-45.0" y1="0" x2="-39.0" y2="0" stroke="#c4c4c4" stroke-width="5" stroke-linecap="round"/><line x1="45.0" y1="0" x2="39.0" y2="0" stroke="#8c8c8c" stroke-width="7" stroke-linecap="round"/><line x1="45.0" y1="0" x2="39.0" y2="0" stroke="#c4c4c4" stroke-width="5" stroke-linecap="round"/><g opacity="0.82"><rect x="-42.5" y="-15.5" width="26" height="31" rx="13" fill="#5f9cc8"/><rect x="16.5" y="-15.5" width="26" height="31" rx="13" fill="#5f9cc8"/><rect x="-29.5" y="-13" width="59.0" height="26" fill="#5f9cc8"/><rect x="-41.5" y="-14.5" width="24" height="29" rx="12" fill="#8ccdf5"/><rect x="17.5" y="-14.5" width="24" height="29" rx="12" fill="#8ccdf5"/><rect x="-29.5" y="-12" width="59.0" height="24" fill="#8ccdf5"/></g></g>
<text x="0" y="-1.0" transform="translate(90,495.0) rotate(-90)" font-size="14" text-anchor="middle" dominant-baseline="central" fill="#000">100K</text>
<g transform="translate(225.0,480) rotate(0)"><line x1="-45.0" y1="0" x2="-39.0" y2="0" stroke="#8c8c8c" stroke-width="7" stroke-linecap="round"/><line x1="-45.0" y1="0" x2="-39.0" y2="0" stroke="#c4c4c4" stroke-width="5" stroke-linecap="round"/><line x1="45.0" y1="0" x2="39.0" y2="0" stroke="#8c8c8c" stroke-width="7" stroke-linecap="round"/><line x1="45.0" y1="0" x2="39.0" y2="0" stroke="#c4c4c4" stroke-width="5" stroke-linecap="round"/><g opacity="0.82"><rect x="-42.5" y="-15.5" width="26" height="31" rx="13" fill="#5f9cc8"/><rect x="16.5" y="-15.5" width="26" height="31" rx="13" fill="#5f9cc8"/><rect x="-29.5" y="-13" width="59.0" height="26" fill="#5f9cc8"/><rect x="-41.5" y="-14.5" width="24" height="29" rx="12" fill="#8ccdf5"/><rect x="17.5" y="-14.5" width="24" height="29" rx="12" fill="#8ccdf5"/><rect x="-29.5" y="-12" width="59.0" height="24" fill="#8ccdf5"/></g></g>
<text x="0" y="-1.5" transform="translate(225.0,480) rotate(0)" font-size="14" text-anchor="middle" dominant-baseline="central" fill="#000">10K</text>
<g transform="translate(225.0,540) rotate(0)"><line x1="-45.0" y1="0" x2="-39.0" y2="0" stroke="#8c8c8c" stroke-width="7" stroke-linecap="round"/><line x1="-45.0" y1="0" x2="-39.0" y2="0" stroke="#c4c4c4" stroke-width="5" stroke-linecap="round"/><line x1="45.0" y1="0" x2="39.0" y2="0" stroke="#8c8c8c" stroke-width="7" stroke-linecap="round"/><line x1="45.0" y1="0" x2="39.0" y2="0" stroke="#c4c4c4" stroke-width="5" stroke-linecap="round"/><g opacity="0.82"><rect x="-42.5" y="-15.5" width="26" height="31" rx="13" fill="#5f9cc8"/><rect x="16.5" y="-15.5" width="26" height="31" rx="13" fill="#5f9cc8"/><rect x="-29.5" y="-13" width="59.0" height="26" fill="#5f9cc8"/><rect x="-41.5" y="-14.5" width="24" height="29" rx="12" fill="#8ccdf5"/><rect x="17.5" y="-14.5" width="24" height="29" rx="12" fill="#8ccdf5"/><rect x="-29.5" y="-12" width="59.0" height="24" fill="#8ccdf5"/></g></g>
<text x="0" y="-1.5" transform="translate(225.0,540) rotate(0)" font-size="14" text-anchor="middle" dominant-baseline="central" fill="#000">1M</text>
<g transform="translate(330,525.0) rotate(90)"><line x1="-45.0" y1="0" x2="-39.0" y2="0" stroke="#8c8c8c" stroke-width="7" stroke-linecap="round"/><line x1="-45.0" y1="0" x2="-39.0" y2="0" stroke="#c4c4c4" stroke-width="5" stroke-linecap="round"/><line x1="45.0" y1="0" x2="39.0" y2="0" stroke="#8c8c8c" stroke-width="7" stroke-linecap="round"/><line x1="45.0" y1="0" x2="39.0" y2="0" stroke="#c4c4c4" stroke-width="5" stroke-linecap="round"/><g opacity="0.82"><rect x="-42.5" y="-15.5" width="26" height="31" rx="13" fill="#5f9cc8"/><rect x="16.5" y="-15.5" width="26" height="31" rx="13" fill="#5f9cc8"/><rect x="-29.5" y="-13" width="59.0" height="26" fill="#5f9cc8"/><rect x="-41.5" y="-14.5" width="24" height="29" rx="12" fill="#8ccdf5"/><rect x="17.5" y="-14.5" width="24" height="29" rx="12" fill="#8ccdf5"/><rect x="-29.5" y="-12" width="59.0" height="24" fill="#8ccdf5"/></g></g>
<text x="0" y="-1.0" transform="translate(330,525.0) rotate(-90)" font-size="14" text-anchor="middle" dominant-baseline="central" fill="#000">1M</text>
<g transform="translate(120,585.0) rotate(90)"><line x1="-45.0" y1="0" x2="-39.0" y2="0" stroke="#8c8c8c" stroke-width="7" stroke-linecap="round"/><line x1="-45.0" y1="0" x2="-39.0" y2="0" stroke="#c4c4c4" stroke-width="5" stroke-linecap="round"/><line x1="45.0" y1="0" x2="39.0" y2="0" stroke="#8c8c8c" stroke-width="7" stroke-linecap="round"/><line x1="45.0" y1="0" x2="39.0" y2="0" stroke="#c4c4c4" stroke-width="5" stroke-linecap="round"/><g opacity="0.82"><rect x="-42.5" y="-15.5" width="26" height="31" rx="13" fill="#5f9cc8"/><rect x="16.5" y="-15.5" width="26" height="31" rx="13" fill="#5f9cc8"/><rect x="-29.5" y="-13" width="59.0" height="26" fill="#5f9cc8"/><rect x="-41.5" y="-14.5" width="24" height="29" rx="12" fill="#8ccdf5"/><rect x="17.5" y="-14.5" width="24" height="29" rx="12" fill="#8ccdf5"/><rect x="-29.5" y="-12" width="59.0" height="24" fill="#8ccdf5"/></g></g>
<text x="0" y="-1.0" transform="translate(120,585.0) rotate(-90)" font-size="14" text-anchor="middle" dominant-baseline="central" fill="#000">10K</text>
<g transform="translate(180.0,510) rotate(0)"><rect x="-38.0" y="-15.5" width="76.0" height="31" rx="15" fill="#ff8000" fill-opacity="0.8" stroke="#b85c00" stroke-opacity="0.8" stroke-width="1"/><circle cx="-30.0" cy="0" r="4" fill="#d86a10" opacity="0.7"/><circle cx="30.0" cy="0" r="4" fill="#d86a10" opacity="0.7"/></g>
<text x="0" y="-1.5" transform="translate(180.0,510) rotate(0)" font-size="14" text-anchor="middle" dominant-baseline="central" fill="#000">0.1uF</text>
<g transform="translate(300,540.0) rotate(90)"><rect x="-38.0" y="-15.5" width="76.0" height="31" rx="15" fill="#ff8000" fill-opacity="0.8" stroke="#b85c00" stroke-opacity="0.8" stroke-width="1"/><circle cx="-30.0" cy="0" r="4" fill="#d86a10" opacity="0.7"/><circle cx="30.0" cy="0" r="4" fill="#d86a10" opacity="0.7"/></g>
<text x="0" y="-1.5" transform="translate(300,540.0) rotate(-90)" font-size="14" text-anchor="middle" dominant-baseline="central" fill="#000">0.1uF</text>
<ellipse cx="90" cy="600" rx="15.5" ry="37.5" fill="#f0e68c" fill-opacity="0.8" stroke="#a89a50" stroke-opacity="0.8"/>
<text x="0" y="-1.5" transform="translate(90,600) rotate(-90)" font-size="14" text-anchor="middle" dominant-baseline="central" fill="#000">0.1uF</text>
<g opacity="0.85"><circle cx="195" cy="630" r="38.5" fill="#6b6dce" stroke="#3c3e90"/>
<path d="M218,599.2 A38.5,38.5 0 0 1 218,660.8 Z" fill="#8cacea"/></g>
<text x="194" y="628.5" font-size="14" text-anchor="middle" dominant-baseline="central" fill="#fff">100uF</text>
<rect x="223.4" y="624" width="1.3" height="10" fill="#fff"/>
<rect x="158.5" y="113.0" width="65.0" height="15" fill="#cfcfcf" stroke="#606060" stroke-width="1"/>
<rect x="158.5" y="173.0" width="65.0" height="15" fill="#cfcfcf" stroke="#606060" stroke-width="1"/>
<rect x="158.5" y="233.0" width="65.0" height="15" fill="#cfcfcf" stroke="#606060" stroke-width="1"/>
<rect x="180.5" y="105.5" width="55" height="150.5" rx="4" fill="#d4951a" fill-opacity="0.8" stroke="#8a6a30" stroke-opacity="0.8"/>
<circle cx="150.5" cy="120.5" r="12" fill="#fff" stroke="#cfcfcf" stroke-width="7"/>
<circle cx="150.5" cy="120.5" r="15.5" fill="none" stroke="#808080" stroke-width="1"/>
<circle cx="150.5" cy="120.5" r="8.5" fill="none" stroke="#808080" stroke-width="1"/>
<circle cx="150.5" cy="180.5" r="12" fill="#fff" stroke="#cfcfcf" stroke-width="7"/>
<circle cx="150.5" cy="180.5" r="15.5" fill="none" stroke="#808080" stroke-width="1"/>
<circle cx="150.5" cy="180.5" r="8.5" fill="none" stroke="#808080" stroke-width="1"/>
<circle cx="150.5" cy="240.5" r="12" fill="#fff" stroke="#cfcfcf" stroke-width="7"/>
<circle cx="150.5" cy="240.5" r="15.5" fill="none" stroke="#808080" stroke-width="1"/>
<circle cx="150.5" cy="240.5" r="8.5" fill="none" stroke="#808080" stroke-width="1"/>
<circle cx="256" cy="180.5" r="75.5" fill="#cccccc" stroke="#808080" stroke-width="1"/>
<text x="256" y="171.2" font-size="14" text-anchor="middle" dominant-baseline="central" fill="#222">MASTER</text>
<text x="256" y="188.2" font-size="14" text-anchor="middle" dominant-baseline="central" fill="#222">100K Lin</text>
<rect x="196" y="713.0" width="66.5" height="15" fill="#cfcfcf" stroke="#606060" stroke-width="1"/>
<rect x="196" y="773.0" width="66.5" height="15" fill="#cfcfcf" stroke="#606060" stroke-width="1"/>
<rect x="196" y="833.0" width="66.5" height="15" fill="#cfcfcf" stroke="#606060" stroke-width="1"/>
<rect x="184" y="705.5" width="56.5" height="150.5" rx="4" fill="#d4951a" fill-opacity="0.8" stroke="#8a6a30" stroke-opacity="0.8"/>
<circle cx="270.5" cy="720.5" r="12" fill="#fff" stroke="#cfcfcf" stroke-width="7"/>
<circle cx="270.5" cy="720.5" r="15.5" fill="none" stroke="#808080" stroke-width="1"/>
<circle cx="270.5" cy="720.5" r="8.5" fill="none" stroke="#808080" stroke-width="1"/>
<circle cx="270.5" cy="780.5" r="12" fill="#fff" stroke="#cfcfcf" stroke-width="7"/>
<circle cx="270.5" cy="780.5" r="15.5" fill="none" stroke="#808080" stroke-width="1"/>
<circle cx="270.5" cy="780.5" r="8.5" fill="none" stroke="#808080" stroke-width="1"/>
<circle cx="270.5" cy="840.5" r="12" fill="#fff" stroke="#cfcfcf" stroke-width="7"/>
<circle cx="270.5" cy="840.5" r="15.5" fill="none" stroke="#808080" stroke-width="1"/>
<circle cx="270.5" cy="840.5" r="8.5" fill="none" stroke="#808080" stroke-width="1"/>
<circle cx="165.5" cy="781" r="75.5" fill="#cccccc" stroke="#808080" stroke-width="1"/>
<text x="165.5" y="771.7" font-size="14" text-anchor="middle" dominant-baseline="central" fill="#222">GAIN</text>
<text x="165.5" y="788.7" font-size="14" text-anchor="middle" dominant-baseline="central" fill="#222">500K Lin</text>
<g opacity="0.85" fill="none" stroke-linecap="round"><path d="M30,240 L30,290 C30,318 40,330 60,330" stroke="#0a8a28" stroke-width="11.5"/><path d="M30,240 L30,290 C30,318 40,330 60,330" stroke="#10d040" stroke-width="9.5"/></g>
<g opacity="0.85" fill="none" stroke-linecap="round"><path d="M60,240 L60,290 C60,318 70,330 90,330" stroke="#0000a0" stroke-width="11.5"/><path d="M60,240 L60,290 C60,318 70,330 90,330" stroke="#1010ff" stroke-width="9.5"/></g>
<g opacity="0.85" fill="none" stroke-linecap="round"><path d="M150,120 C92,128 90,322 150,330" stroke="#7a3e00" stroke-width="11.5"/><path d="M150,120 C92,128 90,322 150,330" stroke="#cc6a0a" stroke-width="9.5"/></g>
<g opacity="0.85" fill="none" stroke-linecap="round"><path d="M150,180 C104,182 102,380 150,390" stroke="#b06000" stroke-width="11.5"/><path d="M150,180 C104,182 102,380 150,390" stroke="#ff9a10" stroke-width="9.5"/></g>
<g opacity="0.85" fill="none" stroke-linecap="round"><path d="M150,240 C205,238 157,385 150,450" stroke="#b0a800" stroke-width="11.5"/><path d="M150,240 C205,238 157,385 150,450" stroke="#ffff10" stroke-width="9.5"/></g>
<g opacity="0.85" fill="none" stroke-linecap="round"><path d="M360,210 C360,296 210,256 210,300" stroke="#0a8a28" stroke-width="11.5"/><path d="M360,210 C360,296 210,256 210,300" stroke="#10d040" stroke-width="9.5"/></g>
<g opacity="0.85" fill="none" stroke-linecap="round"><path d="M390,210 C390,312 210,276 210,330" stroke="#a00000" stroke-width="11.5"/><path d="M390,210 C390,312 210,276 210,330" stroke="#ff1414" stroke-width="9.5"/></g>
<g opacity="0.85" fill="none" stroke-linecap="round"><path d="M270,510 C240,600 230,720 270,720" stroke="#b0a800" stroke-width="11.5"/><path d="M270,510 C240,600 230,720 270,720" stroke="#ffff10" stroke-width="9.5"/></g>
<g opacity="0.85" fill="none" stroke-linecap="round"><path d="M270,570 C320,580 320,770 270,780" stroke="#b06000" stroke-width="11.5"/><path d="M270,570 C320,580 320,770 270,780" stroke="#ff9a10" stroke-width="9.5"/></g>
<g opacity="0.85" fill="none" stroke-linecap="round"><path d="M270,630 C330,640 332,830 270,840" stroke="#7a3e00" stroke-width="11.5"/><path d="M270,630 C330,640 332,830 270,840" stroke="#cc6a0a" stroke-width="9.5"/></g>
<g opacity="0.85" fill="none" stroke-linecap="round"><path d="M330,630 C355,630 360,650 360,690 L360,719" stroke="#0000a0" stroke-width="11.5"/><path d="M330,630 C355,630 360,650 360,690 L360,719" stroke="#1010ff" stroke-width="9.5"/></g>
<g opacity="0.85" fill="none" stroke-linecap="round"><path d="M360,630 C385,630 390,650 390,690 L390,719" stroke="#0a8a28" stroke-width="11.5"/><path d="M360,630 C385,630 390,650 390,690 L390,719" stroke="#10d040" stroke-width="9.5"/></g>
<text x="0" y="0" transform="translate(30,210) rotate(90)" font-size="20" text-anchor="end" dominant-baseline="central" fill="#000">GND</text>
<text x="0" y="0" transform="translate(60,210) rotate(90)" font-size="20" text-anchor="end" dominant-baseline="central" fill="#000">OUT</text>
<text x="0" y="0" transform="translate(360,180) rotate(90)" font-size="20" text-anchor="end" dominant-baseline="central" fill="#000">GND</text>
<text x="0" y="0" transform="translate(390,180) rotate(90)" font-size="20" text-anchor="end" dominant-baseline="central" fill="#000">9V+</text>
<text x="0" y="0" transform="translate(360,750) rotate(90)" font-size="20" text-anchor="start" dominant-baseline="central" fill="#000">IN</text>
<text x="0" y="0" transform="translate(390,750) rotate(90)" font-size="20" text-anchor="start" dominant-baseline="central" fill="#000">GND</text>
<rect x="450" y="510" width="360" height="420" fill="#000"/>
<path d="M510,586 L614,586 L614,576 L702,576 L702,582 L714,593 L714,630 L720,641.5 L665,641.5 L641,665.5 L650,676 L732,676 L732,790 L741,798 L716,812 L704,826 L690,826 L690,810 L660,810 L630,780 L600,780 L600,660 L586,646 L570,646 L570,630 L510,630 Z" fill="#fff"/>
<path d="M578,742 L588.5,731 L596,731 L596,769 L588.5,769 L578,758 Z" fill="#fff"/>
<g fill="none" stroke="#fff" stroke-width="23" stroke-linecap="round" stroke-linejoin="round">
<polyline points="510,570 510,630 570,630"/>
<polyline points="570,570 540,600"/>
<polyline points="600,600 630,600 630,570 660,570 690,570 690,600"/>
<polyline points="660,600 660,630 720.5,630 720.5,600"/>
<polyline points="660,630 630,660 630,780 660,810 690,810"/>
<polyline points="510,690 540,690 540,720 570,750"/>
<polyline points="600,690 600,870 510,870"/>
<polyline points="690,690 690,750"/>
<polyline points="720,690 720,780 690,780"/>
<polyline points="690,810 690,870"/>
<polyline points="720,810 750,810 750,870"/>
</g><g fill="#fff">
<circle cx="660" cy="570" r="16.6"/>
<circle cx="540" cy="600" r="16.6"/>
<circle cx="600" cy="600" r="16.6"/>
<circle cx="660" cy="600" r="16.6"/>
<circle cx="690" cy="600" r="16.6"/>
<circle cx="720" cy="600" r="16.6"/>
<circle cx="750" cy="600" r="16.6"/>
<circle cx="510" cy="690" r="16.6"/>
<circle cx="540" cy="690" r="16.6"/>
<circle cx="600" cy="690" r="16.6"/>
<circle cx="660" cy="690" r="16.6"/>
<circle cx="690" cy="690" r="16.6"/>
<circle cx="720" cy="690" r="16.6"/>
<circle cx="600" cy="720" r="16.6"/>
<circle cx="690" cy="720" r="16.6"/>
<circle cx="570" cy="750" r="16.6"/>
<circle cx="630" cy="750" r="16.6"/>
<circle cx="720" cy="750" r="16.6"/>
<circle cx="600" cy="780" r="16.6"/>
<circle cx="690" cy="780" r="16.6"/>
<circle cx="720" cy="810" r="16.6"/>
<circle cx="750" cy="810" r="16.6"/>
<circle cx="510" cy="870" r="16.6"/>
<circle cx="540" cy="870" r="16.6"/>
<circle cx="600" cy="870" r="16.6"/>
<rect x="493.5" y="553.5" width="33" height="33"/>
<rect x="553.5" y="553.5" width="33" height="33"/>
<rect x="613.5" y="553.5" width="33" height="33"/>
<rect x="613.5" y="583.5" width="33" height="33"/>
<rect x="553.5" y="613.5" width="33" height="33"/>
<rect x="673.5" y="733.5" width="33" height="33"/>
<rect x="673.5" y="793.5" width="33" height="33"/>
<rect x="673.5" y="853.5" width="33" height="33"/>
<rect x="733.5" y="853.5" width="33" height="33"/>
</g>
<g fill="none" stroke="#000" stroke-width="14" stroke-linecap="round" stroke-linejoin="round">
<polyline points="510,570 510,630 570,630"/>
<polyline points="570,570 540,600"/>
<polyline points="600,600 630,600 630,570 660,570 690,570 690,600"/>
<polyline points="660,600 660,630 720.5,630 720.5,600"/>
<polyline points="660,630 630,660 630,780 660,810 690,810"/>
<polyline points="510,690 540,690 540,720 570,750"/>
<polyline points="600,690 600,870 510,870"/>
<polyline points="690,690 690,750"/>
<polyline points="720,690 720,780 690,780"/>
<polyline points="690,810 690,870"/>
<polyline points="720,810 750,810 750,870"/>
</g><g fill="#000">
<circle cx="660" cy="570" r="12"/>
<circle cx="540" cy="600" r="12"/>
<circle cx="600" cy="600" r="12"/>
<circle cx="660" cy="600" r="12"/>
<circle cx="690" cy="600" r="12"/>
<circle cx="720" cy="600" r="12"/>
<circle cx="750" cy="600" r="12"/>
<circle cx="510" cy="690" r="12"/>
<circle cx="540" cy="690" r="12"/>
<circle cx="600" cy="690" r="12"/>
<circle cx="660" cy="690" r="12"/>
<circle cx="690" cy="690" r="12"/>
<circle cx="720" cy="690" r="12"/>
<circle cx="600" cy="720" r="12"/>
<circle cx="690" cy="720" r="12"/>
<circle cx="570" cy="750" r="12"/>
<circle cx="630" cy="750" r="12"/>
<circle cx="720" cy="750" r="12"/>
<circle cx="600" cy="780" r="12"/>
<circle cx="690" cy="780" r="12"/>
<circle cx="720" cy="810" r="12"/>
<circle cx="750" cy="810" r="12"/>
<circle cx="510" cy="870" r="12"/>
<circle cx="540" cy="870" r="12"/>
<circle cx="600" cy="870" r="12"/>
<rect x="498" y="558" width="24" height="24"/>
<rect x="558" y="558" width="24" height="24"/>
<rect x="618" y="558" width="24" height="24"/>
<rect x="618" y="588" width="24" height="24"/>
<rect x="558" y="618" width="24" height="24"/>
<rect x="678" y="738" width="24" height="24"/>
<rect x="678" y="798" width="24" height="24"/>
<rect x="678" y="858" width="24" height="24"/>
<rect x="738" y="858" width="24" height="24"/>
</g><g fill="#fff">
<circle cx="660" cy="570" r="4"/>
<circle cx="540" cy="600" r="4"/>
<circle cx="600" cy="600" r="4"/>
<circle cx="660" cy="600" r="4"/>
<circle cx="690" cy="600" r="4"/>
<circle cx="720" cy="600" r="4"/>
<circle cx="750" cy="600" r="4"/>
<circle cx="510" cy="690" r="4"/>
<circle cx="540" cy="690" r="4"/>
<circle cx="600" cy="690" r="4"/>
<circle cx="660" cy="690" r="4"/>
<circle cx="690" cy="690" r="4"/>
<circle cx="720" cy="690" r="4"/>
<circle cx="600" cy="720" r="4"/>
<circle cx="690" cy="720" r="4"/>
<circle cx="570" cy="750" r="4"/>
<circle cx="630" cy="750" r="4"/>
<circle cx="720" cy="750" r="4"/>
<circle cx="600" cy="780" r="4"/>
<circle cx="690" cy="780" r="4"/>
<circle cx="720" cy="810" r="4"/>
<circle cx="750" cy="810" r="4"/>
<circle cx="510" cy="870" r="4"/>
<circle cx="540" cy="870" r="4"/>
<circle cx="600" cy="870" r="4"/>
<circle cx="510" cy="570" r="4"/>
<circle cx="570" cy="570" r="4"/>
<circle cx="630" cy="570" r="4"/>
<circle cx="630" cy="600" r="4"/>
<circle cx="570" cy="630" r="4"/>
<circle cx="690" cy="750" r="4"/>
<circle cx="690" cy="810" r="4"/>
<circle cx="690" cy="870" r="4"/>
<circle cx="750" cy="870" r="4"/>
<circle cx="630" cy="540" r="4.2"/>
<circle cx="480" cy="570" r="4.2"/>
<circle cx="750" cy="570" r="4.2"/>
<circle cx="570" cy="690" r="4.2"/>
<circle cx="750" cy="690" r="4.2"/>
<circle cx="750" cy="720" r="4.2"/>
<circle cx="510" cy="780" r="4.2"/>
<circle cx="540" cy="780" r="4.2"/>
<circle cx="510" cy="810" r="4.2"/>
<circle cx="630" cy="870" r="4.2"/>
<circle cx="780" cy="870" r="4.2"/>
</g>
<text x="0" y="0" transform="translate(619,915.5) scale(-1,0.85)" font-family="Liberation Mono, monospace" font-weight="bold" font-size="30" text-anchor="middle" fill="#fff">Toot-leg.</text>
<text x="0" y="0" transform="translate(466,719.5) rotate(90) scale(-1,0.85)" font-family="Liberation Mono, monospace" font-weight="bold" font-size="30" text-anchor="middle" fill="#fff">Gain Lelper</text>
<g stroke="#000" stroke-width="1.5">
<line x1="462" y1="480" x2="583" y2="480"/><line x1="677" y1="480" x2="798" y2="480"/>
<line x1="420" y1="522" x2="420" y2="673"/><line x1="420" y1="766" x2="420" y2="917"/>
</g>
<g fill="#000"><path d="M450,480 L465,473 L465,487 Z"/><path d="M810,480 L795,473 L795,487 Z"/>
<path d="M420,509 L413,524 L427,524 Z"/><path d="M420,929 L413,914 L427,914 Z"/></g>
<text x="630" y="487" font-size="20" text-anchor="middle" fill="#000">30.48mm</text>
<text x="0" y="0" font-size="20.5" text-anchor="middle" fill="#000" transform="translate(428,719) rotate(-90)">35.56mm</text>
</svg></body></html>
